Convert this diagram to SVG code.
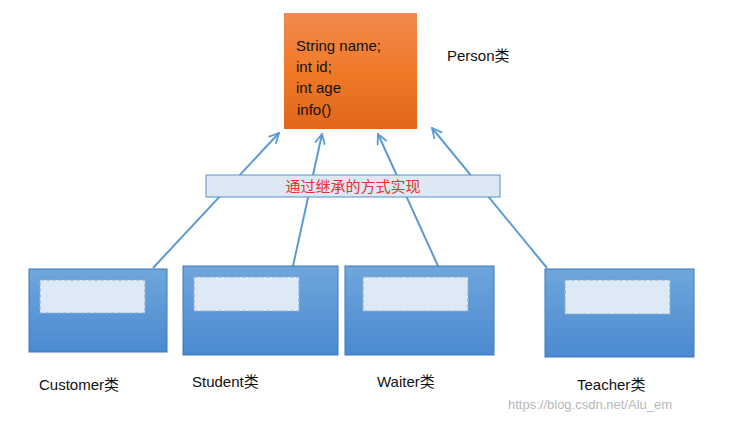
<svg xmlns="http://www.w3.org/2000/svg" width="729" height="422" viewBox="0 0 729 422">
<defs>
<linearGradient id="og" x1="0" y1="0" x2="0" y2="1"><stop offset="0" stop-color="#f08a50"/><stop offset="0.5" stop-color="#f07a28"/><stop offset="1" stop-color="#e0661a"/></linearGradient>
<linearGradient id="bg" x1="0" y1="0" x2="0" y2="1"><stop offset="0" stop-color="#6fa6dc"/><stop offset="1" stop-color="#4a8ad0"/></linearGradient>
<marker id="ar" viewBox="0 0 12 12" refX="11" refY="6" markerWidth="12" markerHeight="12" markerUnits="userSpaceOnUse" orient="auto"><path d="M1,1 L11,6 L1,11" fill="none" stroke="#5b9bd5" stroke-width="1.8"/></marker>
</defs>
<style>
text{font-family:"Liberation Sans",Arial,sans-serif;font-size:15px;fill:#111}
.box{fill:url(#bg);stroke:#3c78b8;stroke-width:1}
.in{fill:#dde9f5;stroke:#8fb0d6;stroke-width:1.2;stroke-dasharray:4 2}
.c{stroke:#5b9bd5;stroke-width:2;fill:none;marker-end:url(#ar)}
</style>
<rect width="729" height="422" fill="#fff"/>
<g id="connectors">
<line class="c" x1="153" y1="268" x2="279" y2="133"/>
<line class="c" x1="293" y1="266" x2="322" y2="134"/>
<line class="c" x1="438" y1="266" x2="378" y2="134"/>
<line class="c" x1="547" y1="268" x2="432" y2="128"/>
</g>
<g id="banner"><rect x="206" y="175" width="294" height="22" fill="#dce8f4" stroke="#5b8fc8"/><text x="353" y="192" text-anchor="middle" style="fill:#e8302a;font-family:'Noto Sans CJK SC',sans-serif;font-size:15px">通过继承的方式实现</text></g>
<g id="person"><rect x="284" y="13" width="133" height="116" fill="url(#og)"/>
<text x="296" y="51">String name;</text><text x="296" y="72">int id;</text><text x="296" y="93">int age</text><text x="297" y="115">info()</text>
<text x="447" y="61">Person<tspan style="font-family:'Noto Sans CJK SC',sans-serif">类</tspan></text></g>
<g id="customer"><rect class="box" x="29" y="269" width="138" height="83"/><rect class="in" x="40" y="280" width="105" height="33"/><text x="39" y="390">Customer<tspan style="font-family:'Noto Sans CJK SC',sans-serif">类</tspan></text></g>
<g id="student"><rect class="box" x="183" y="266" width="155" height="89"/><rect class="in" x="194" y="277" width="105" height="34"/><text x="192" y="387">Student<tspan style="font-family:'Noto Sans CJK SC',sans-serif">类</tspan></text></g>
<g id="waiter"><rect class="box" x="345" y="266" width="149" height="89"/><rect class="in" x="363" y="277" width="105" height="34"/><text x="377" y="387">Waiter<tspan style="font-family:'Noto Sans CJK SC',sans-serif">类</tspan></text></g>
<g id="teacher"><rect class="box" x="545" y="269" width="149" height="88"/><rect class="in" x="565" y="280" width="105" height="34"/><text x="577" y="390">Teacher<tspan style="font-family:'Noto Sans CJK SC',sans-serif">类</tspan></text></g>
<text x="508" y="409" style="fill:#b8b8b8;font-size:13px">https://blog.csdn.net/Alu_em</text>
</svg>
